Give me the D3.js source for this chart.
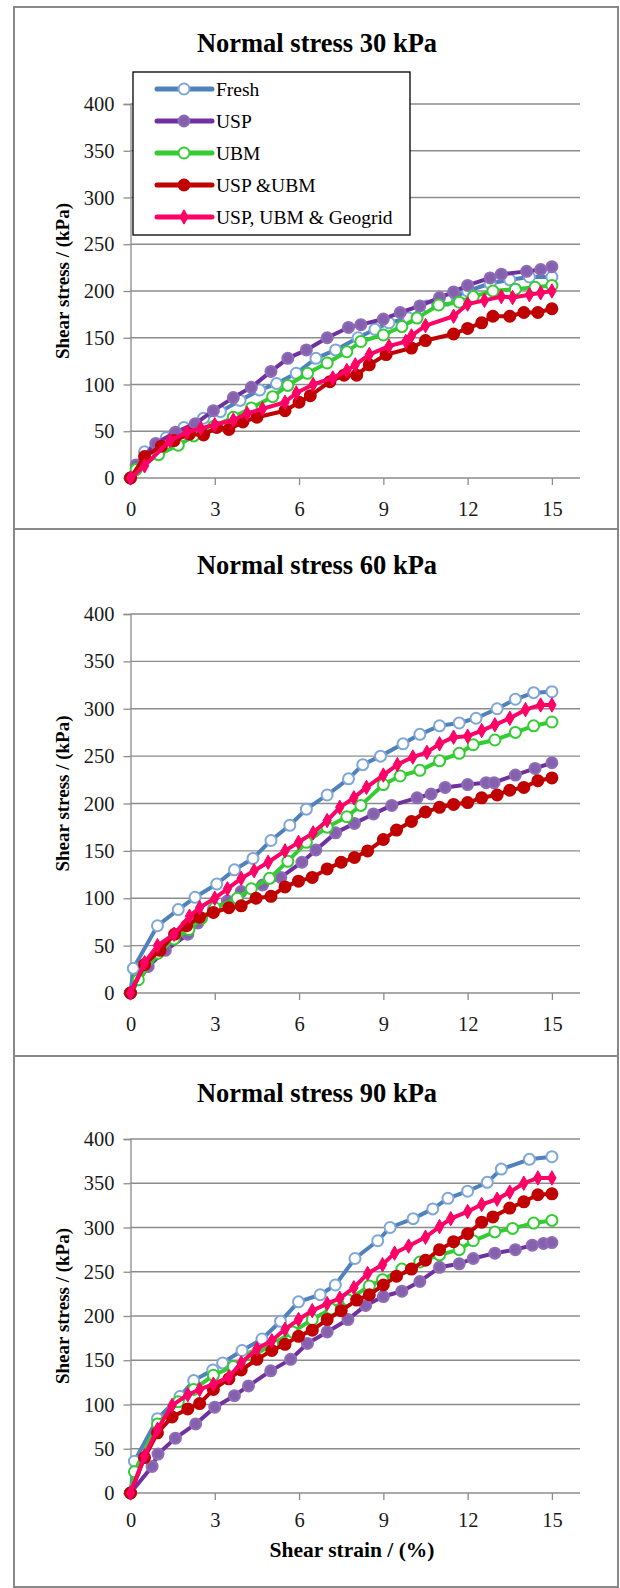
<!DOCTYPE html>
<html>
<head>
<meta charset="utf-8">
<script src="https://cdn.jsdelivr.net/npm/d3@7"></script>
<style>
  body { margin: 0; background: #fff; }
  svg text { font-family: 'Liberation Serif', 'Times New Roman', serif; }
</style>
</head>
<body>
<div id="container"></div>
<script>
// chart data: [shear strain %, shear stress kPa]
const seriesNames = ['Fresh', 'USP', 'UBM', 'USP &UBM', 'USP, UBM & Geogrid']
const panelTitles = ['Normal stress 30 kPa', 'Normal stress 60 kPa', 'Normal stress 90 kPa']
const xTicks = [0, 3, 6, 9, 12, 15]
const yTicks = [0, 50, 100, 150, 200, 250, 300, 350, 400]

const fresh30 = [[0, 0], [0.5, 28], [1.27, 43], [1.9, 54], [2.6, 64], [3.2, 71], [3.9, 83], [4.6, 94], [5.2, 101], [5.9, 112], [6.6, 128], [7.3, 137], [8.1, 150], [8.7, 159], [9.2, 166], [9.9, 171], [10.55, 184], [11.25, 190], [12, 200], [12.8, 208], [13.5, 212], [14.2, 215], [15, 215]]
const usp30 = [[0, 0], [0.2, 14], [0.9, 37], [1.6, 49], [2.3, 58], [2.95, 72], [3.66, 86], [4.3, 97], [5, 114], [5.6, 128], [6.26, 137], [7, 150], [7.76, 161], [8.2, 164], [9, 170], [9.6, 177], [10.3, 184], [11, 193], [11.5, 199], [12, 206], [12.8, 214], [13.2, 218], [14.1, 221], [14.6, 223], [15, 226]]
const ubm30 = [[0, 0], [0.2, 9], [1, 25], [1.7, 35], [2.25, 45], [2.95, 55], [3.66, 65], [4.3, 75], [5.06, 87], [5.6, 99], [6.3, 112], [7, 123], [7.7, 135], [8.2, 146], [9, 153], [9.66, 162], [10.2, 171], [10.97, 185], [11.7, 188], [12.2, 194], [12.9, 200], [13.7, 202], [14.4, 204], [15, 206]]
const uspUbm30 = [[0, 0], [0.5, 23], [1.1, 34], [1.55, 40], [2.1, 47], [2.6, 46], [3.07, 54], [3.5, 52], [4, 60], [4.5, 65], [5.5, 72], [6, 81], [6.4, 88], [7.1, 103], [7.6, 110], [8.05, 110], [8.5, 121], [9.1, 132], [10, 139], [10.5, 147], [11.5, 154], [12, 160], [12.5, 166], [12.9, 173], [13.5, 173], [14, 177], [14.5, 177], [15, 181]]
const geogrid30 = [[0, 0], [0.5, 13], [1.4, 40], [2, 49], [2.5, 53], [3, 57], [3.66, 62], [4.15, 69], [4.7, 74], [5.5, 81], [5.9, 91], [6.5, 100], [7.2, 107], [7.7, 115], [8, 121], [8.5, 132], [9.2, 141], [9.8, 146], [10, 152], [10.5, 163], [11.5, 173], [12, 186], [12.6, 190], [13.2, 194], [13.6, 193], [14.2, 196], [14.6, 198], [15, 200]]

const fresh60 = [[0, 0], [0.1, 26], [0.96, 71], [1.7, 88], [2.3, 101], [3.07, 115], [3.7, 130], [4.36, 142], [5, 161], [5.67, 177], [6.26, 194], [7, 209], [7.76, 226], [8.27, 241], [8.9, 250], [9.7, 263], [10.3, 273], [11, 282], [11.7, 285], [12.3, 290], [13.05, 300], [13.7, 310], [14.35, 317], [15, 318]]
const usp60 = [[0, 0], [0.63, 28], [1.24, 45], [2.04, 62], [2.4, 74], [2.95, 88], [3.45, 97], [3.94, 107], [4.7, 114], [5.35, 122], [6.1, 138], [6.6, 151], [7.3, 169], [7.97, 179], [8.65, 189], [9.3, 198], [10.2, 206], [10.7, 210], [11.2, 217], [12, 220], [12.66, 222], [12.94, 222], [13.7, 230], [14.4, 237], [15, 243]]
const ubm60 = [[0, 0], [0.28, 14], [0.98, 42], [1.55, 57], [2.08, 67], [2.53, 79], [3, 90], [3.8, 100], [4.3, 110], [4.95, 121], [5.6, 139], [6.26, 159], [7, 175], [7.7, 186], [8.2, 198], [9, 220], [9.6, 229], [10.3, 235], [11, 245], [11.7, 253], [12.2, 262], [12.97, 267], [13.7, 275], [14.35, 282], [15, 286]]
const uspUbm60 = [[0, 0], [0.5, 30], [1.05, 45], [1.57, 62], [2, 71], [2.46, 80], [2.95, 85], [3.5, 90], [3.94, 92], [4.47, 100], [5, 102], [5.5, 112], [5.98, 118], [6.47, 122], [7, 131], [7.5, 138], [7.97, 143], [8.44, 150], [9, 162], [9.47, 172], [10, 181], [10.5, 191], [11, 196], [11.5, 199], [12, 201], [12.5, 206], [13.05, 209], [13.5, 214], [14, 217], [14.5, 224], [15, 227]]
const geogrid60 = [[0, 0], [0.5, 32], [0.96, 50], [1.55, 62], [2.1, 81], [2.46, 90], [3, 100], [3.45, 110], [3.94, 121], [4.4, 129], [4.9, 138], [5.5, 150], [5.98, 159], [6.5, 169], [7, 182], [7.45, 196], [7.95, 206], [8.4, 217], [9, 230], [9.5, 241], [10.05, 249], [10.55, 254], [11, 263], [11.5, 270], [12, 271], [12.5, 277], [12.97, 283], [13.5, 290], [14.06, 299], [14.6, 304], [15, 304]]

const fresh90 = [[0, 0], [0.14, 36], [0.96, 84], [1.76, 109], [2.25, 127], [2.93, 139], [3.28, 147], [3.97, 161], [4.68, 174], [5.34, 194], [5.98, 216], [6.75, 224], [7.29, 235], [7.99, 265], [8.8, 285], [9.24, 300], [10.06, 310], [10.76, 321], [11.3, 333], [12, 341], [12.7, 351], [13.2, 366], [14.2, 377], [15, 380]]
const usp90 = [[0, 0], [0.77, 30], [0.98, 44], [1.6, 62], [2.32, 78], [3, 97], [3.7, 110], [4.2, 121], [4.99, 138], [5.7, 151], [6.3, 169], [7, 182], [7.74, 196], [8.37, 212], [9, 222], [9.66, 228], [10.3, 239], [11, 255], [11.7, 259], [12.2, 265], [12.97, 271], [13.7, 275], [14.3, 280], [14.7, 282], [15, 283]]
const ubm90 = [[0, 0], [0.14, 24], [0.96, 78], [1.7, 103], [2.25, 117], [2.95, 133], [3.66, 143], [4.36, 155], [5.06, 168], [5.77, 182], [6.47, 196], [7.14, 208], [7.74, 218], [8.5, 234], [8.97, 241], [9.66, 253], [10.3, 261], [11, 269], [11.7, 275], [12.2, 285], [12.97, 295], [13.6, 299], [14.35, 305], [15, 308]]
const uspUbm90 = [[0, 0], [0.5, 40], [0.96, 68], [1.48, 86], [2.04, 95], [2.46, 101], [2.95, 117], [3.5, 129], [3.94, 139], [4.5, 151], [5.03, 161], [5.5, 168], [5.98, 177], [6.47, 184], [7, 196], [7.5, 206], [8.05, 218], [8.5, 224], [9, 235], [9.47, 245], [10, 253], [10.5, 263], [11, 275], [11.5, 284], [12, 293], [12.5, 306], [12.9, 312], [13.5, 322], [14, 329], [14.5, 337], [15, 338]]
const geogrid90 = [[0, 0], [0.5, 42], [0.96, 72], [1.48, 99], [2.04, 111], [2.46, 117], [2.95, 123], [3.5, 131], [3.94, 147], [4.5, 163], [5.03, 172], [5.5, 185], [5.98, 196], [6.47, 206], [7, 214], [7.45, 220], [7.95, 232], [8.44, 248], [8.97, 258], [9.4, 271], [9.9, 279], [10.5, 289], [11, 301], [11.4, 310], [12, 318], [12.5, 326], [13.05, 332], [13.5, 340], [14, 350], [14.5, 356], [15, 356]]

const panelData = [
  [fresh30, usp30, ubm30, uspUbm30, geogrid30],
  [fresh60, usp60, ubm60, uspUbm60, geogrid60],
  [fresh90, usp90, ubm90, uspUbm90, geogrid90]
]

const w = 620
const h = 1588
const font = "'Liberation Serif', 'Times New Roman', serif"

// series look: line colour, marker kind, marker fill/stroke
const styles = [
  { line: '#4f81bd', marker: 'circle', fill: '#fff', stroke: '#7ea6d8' },
  { line: '#7030a0', marker: 'circle', fill: '#8560ad', stroke: '#8f6cb8' },
  { line: '#33cc33', marker: 'circle', fill: '#fff', stroke: '#33cc33' },
  { line: '#c00000', marker: 'circle', fill: '#c00000', stroke: '#c00000' },
  { line: '#ff0066', marker: 'diamond', fill: '#ff0066', stroke: '#ff0066' }
]

// panel boxes: frame top/bottom, plot top/bottom, title centre, x label gap
const panels = [
  { top: 7, bottom: 529, plotTop: 104, plotBottom: 478, titleY: 43, pad: 16 },
  { top: 529, bottom: 1056, plotTop: 614, plotBottom: 993, titleY: 565, pad: 16 },
  { top: 1056, bottom: 1587, plotTop: 1139, plotBottom: 1493, titleY: 1093, pad: 12 }
]

const plotLeft = 130.5
const plotRight = 580

var svg = d3.select('div#container')
  .append('svg')
  .attr('width', w)
  .attr('height', h)
  .attr('viewBox', '0 0 ' + w + ' ' + h)

var x = d3.scaleLinear().domain([0, 16]).range([plotLeft, plotRight])

function drawMarker(sel, st) {
  if (st.marker === 'diamond') {
    sel.append('path')
      .attr('d', d3.symbol(d3.symbolDiamond, 60)())
      .attr('fill', st.fill)
      .attr('stroke', st.stroke)
      .attr('stroke-width', 1)
  } else {
    sel.append('circle')
      .attr('r', 5.5)
      .attr('fill', st.fill)
      .attr('stroke', st.stroke)
      .attr('stroke-width', 2)
  }
}

panels.forEach(function (p, pi) {
  var g = svg.append('g')

  g.append('rect')
    .attr('x', 14)
    .attr('y', p.top)
    .attr('width', 604)
    .attr('height', p.bottom - p.top)
    .attr('fill', 'none')
    .attr('stroke', '#888')
    .attr('stroke-width', 2)

  var y = d3.scaleLinear().domain([0, 400]).range([p.plotBottom, p.plotTop])

  g.append('text')
    .attr('x', 317)
    .attr('y', p.titleY)
    .attr('dy', '0.35em')
    .style('text-anchor', 'middle')
    .style('font-size', '26.5px')
    .style('font-weight', 'bold')
    .text(panelTitles[pi])

  // horizontal gridlines
  g.append('g')
    .selectAll('line')
    .data(yTicks.slice(1))
    .enter().append('line')
    .attr('x1', plotLeft)
    .attr('x2', plotRight)
    .attr('y1', d => y(d))
    .attr('y2', d => y(d))
    .attr('stroke', '#8c8c8c')
    .attr('stroke-width', 1.3)

  var yAxis = g.append('g')
    .attr('transform', 'translate(' + plotLeft + ',0)')
    .call(d3.axisLeft(y).tickValues(yTicks).tickSize(7).tickPadding(9))
  var xAxis = g.append('g')
    .attr('transform', 'translate(0,' + p.plotBottom + ')')
    .call(d3.axisBottom(x).tickValues(xTicks).tickSize(7).tickPadding(p.pad))
  ;[yAxis, xAxis].forEach(function (ax) {
    ax.select('.domain').attr('stroke', '#8c8c8c').attr('stroke-width', 1.3)
    ax.selectAll('.tick line').attr('stroke', '#8c8c8c').attr('stroke-width', 1.3)
    ax.selectAll('.tick text')
      .attr('fill', '#1a1a1a')
      .style('font-family', font)
      .style('font-size', '20.5px')
  })
  xAxis.select('.domain').attr('d', 'M' + plotLeft + ',0H' + plotRight)

  g.append('text')
    .attr('transform', 'translate(62,' + ((p.plotTop + p.plotBottom) / 2 - 10) + ') rotate(-90)')
    .attr('dy', '0.35em')
    .style('text-anchor', 'middle')
    .style('font-size', '19px')
    .style('font-weight', 'bold')
    .text('Shear stress / (kPa)')

  var line = d3.line()
    .x(d => x(d[0]))
    .y(d => y(d[1]))

  panelData[pi].forEach(function (series, si) {
    var st = styles[si]
    g.append('path')
      .datum(series)
      .attr('fill', 'none')
      .attr('stroke', st.line)
      .attr('stroke-width', 4)
      .attr('stroke-linejoin', 'round')
      .attr('d', line)

    var marks = g.append('g')
      .selectAll('g')
      .data(series)
      .enter().append('g')
      .attr('transform', d => 'translate(' + x(d[0]) + ',' + y(d[1]) + ')')
    drawMarker(marks, st)
  })

  if (pi === 2) {
    g.append('text')
      .attr('x', 352)
      .attr('y', 1549)
      .attr('dy', '0.35em')
      .style('text-anchor', 'middle')
      .style('font-size', '21.5px')
      .style('font-weight', 'bold')
      .text('Shear strain / (%)')
  }
})

// legend, only in the first panel
var legend = svg.append('g')

legend.append('rect')
  .attr('x', 133)
  .attr('y', 72)
  .attr('width', 277)
  .attr('height', 163)
  .attr('fill', '#fff')
  .attr('stroke', '#000')
  .attr('stroke-width', 1.3)

var item = legend.selectAll('g.item')
  .data(seriesNames)
  .enter().append('g')
  .attr('class', 'item')
  .attr('transform', (d, i) => 'translate(0,' + (89 + i * 32) + ')')

item.append('line')
  .attr('x1', 157)
  .attr('x2', 212)
  .attr('stroke', (d, i) => styles[i].line)
  .attr('stroke-width', 5)
  .attr('stroke-linecap', 'round')

item.each(function (d, i) {
  var m = d3.select(this).append('g').attr('transform', 'translate(184,0)')
  drawMarker(m, styles[i])
})

item.append('text')
  .attr('x', 216)
  .attr('dy', '0.35em')
  .style('font-size', '19.5px')
  .text(d => d)
</script>
</body>
</html>
